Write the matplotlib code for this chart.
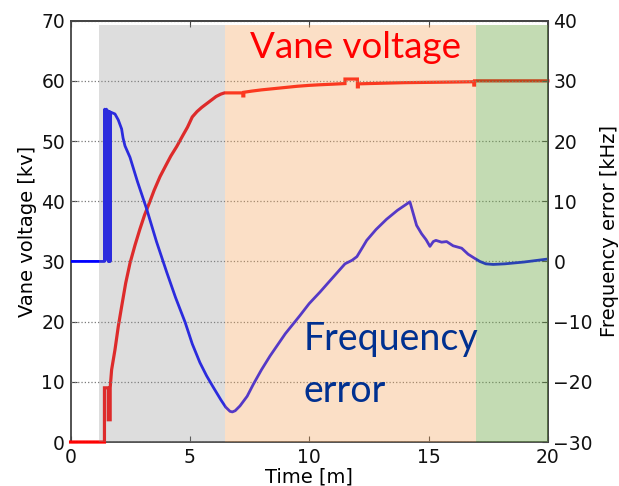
import matplotlib
matplotlib.use("Agg")
import matplotlib.pyplot as plt

# ---- data ----
time_v = [0, 1.42, 1.42, 1.58, 1.58, 1.66, 1.66, 1.72, 1.86, 2.00, 2.14, 2.31, 2.49,
          2.70, 2.90, 3.10, 3.30, 3.50, 3.75, 4.00, 4.20, 4.45, 4.70, 4.90,
          5.10, 5.30, 5.50, 5.70, 5.90, 6.10, 6.30, 6.45, 7.22, 7.22, 7.26, 7.26,
          7.60, 8.00, 8.50, 9.00, 9.50, 10.00, 10.45, 11.00, 11.50, 11.50, 12.02,
          12.02, 12.06, 12.06, 12.50, 13.00, 14.00, 15.00, 16.00, 16.90, 16.90,
          16.93, 16.93, 20.00]
vane_kv = [0, 0, 9.0, 9.0, 3.7, 3.7, 9.0, 12.0, 15.3, 19.2, 22.5, 26.4, 29.7,
           32.7, 35.3, 37.7, 39.7, 41.8, 44.1, 46.0, 47.5, 49.1, 50.9, 52.3,
           54.0, 54.9, 55.6, 56.2, 56.8, 57.4, 57.8, 58.0, 58.0, 57.5, 57.5, 58.1,
           58.3, 58.5, 58.7, 58.9, 59.1, 59.25, 59.35, 59.45, 59.55, 60.3, 60.3,
           59.0, 59.0, 59.5, 59.55, 59.6, 59.7, 59.75, 59.8, 59.85, 59.3,
           59.3, 60.0, 60.0]

time_f = [0, 1.42, 1.43, 1.45, 1.47, 1.50, 1.56, 1.58, 1.60, 1.62, 1.64, 1.66, 1.68,
          1.86, 2.00, 2.14, 2.20, 2.28, 2.49, 2.80, 3.19, 3.60, 4.03, 4.40, 4.80,
          5.10, 5.42, 5.70, 5.98, 6.30, 6.50, 6.68, 6.78, 6.90, 7.10, 7.40, 7.66,
          8.00, 8.36, 9.00, 9.61, 10.00, 10.45, 10.94, 11.50, 11.80, 12.00, 12.26,
          12.41, 12.80, 13.24, 13.70, 14.22, 14.30, 14.50, 14.71, 14.90, 15.06,
          15.20, 15.31, 15.55, 15.76, 16.03, 16.39, 16.66, 16.90, 17.15, 17.40,
          17.71, 18.20, 19.00, 20.00]
freq_khz = [0, 0, 25.3, 0.2, 25.2, 25.3, 25.0, 0, 24.9, 0, 24.9, 0, 24.8,
            24.5, 23.5, 22.0, 20.5, 19.2, 17.3, 13.3, 8.7, 3.3, -1.8, -6.0, -10.1,
            -13.7, -16.8, -19.0, -20.9, -23.0, -24.2, -24.9, -25.0, -24.8, -24.0,
            -22.4, -20.4, -18.0, -15.7, -12.0, -9.0, -7.0, -5.1, -2.9, -0.4, 0.2,
            0.8, 2.5, 3.5, 5.3, 7.0, 8.5, 9.9, 8.8, 6.0, 4.6, 3.6, 2.5, 3.3, 3.5,
            3.2, 3.3, 2.6, 2.2, 1.2, 0.6, 0.0, -0.4, -0.5, -0.4, -0.1, 0.4]

phase_edges = [1.19, 6.47, 16.98, 20.0]
phase_colors = ["#919191", "#f4a65c", "#6ba743"]
phase_alphas = [0.30, 0.35, 0.40]

x_ticks = [0, 5, 10, 15, 20]
left_ticks = [0, 10, 20, 30, 40, 50, 60, 70]
right_ticks = [-30, -20, -10, 0, 10, 20, 30, 40]

# ---- figure ----
fig = plt.figure(figsize=(6.19, 4.86), dpi=100)
ax = fig.add_axes([0.114, 0.0905, 0.771, 0.867])
ax2 = ax.twinx()

ax.plot(time_v, vane_kv, color="#ff0000", lw=2.3, zorder=3, clip_on=False,
        solid_joinstyle="miter")
ax2.plot(time_f, freq_khz, color="#0000ff", lw=2.0, zorder=2)

ax.set_xlim(0, 20)
ax.set_ylim(0, 70)
ax2.set_ylim(-30, 40)

ax.set_xticks(x_ticks)
ax.set_yticks(left_ticks)
ax2.set_yticks(right_ticks)
ax2.set_yticklabels([("\u2212%d" % -v) if v < 0 else str(v) for v in right_ticks])

# grid on the top axes (its y ticks coincide with the left ones), below the blue line
ax2.grid(True, axis="both", linestyle=":", color="#7a7a7a", lw=0.9, zorder=1)
ax2.set_axisbelow(True)
ax2.spines["bottom"].set_visible(False)
ax2.spines["left"].set_visible(False)

# shaded phases drawn on top of the lines (semi-transparent)
for i in range(3):
    ax2.axvspan(phase_edges[i], phase_edges[i + 1], ymin=0, ymax=0.99,
                color=phase_colors[i], alpha=phase_alphas[i], lw=0, zorder=5)

for a in (ax, ax2):
    for s in a.spines.values():
        s.set_color("#444444")
        s.set_linewidth(1.3)

ax.tick_params(direction="in", length=4, labelsize=13.5, pad=4, top=True,
               colors="#444444", labelcolor="#111111")
ax2.tick_params(direction="in", length=4, labelsize=13.5, pad=4,
                colors="#444444", labelcolor="#111111")

ax.set_xlabel("Time [m]", fontsize=14, labelpad=1)
ax.set_ylabel("Vane voltage [kv]", fontsize=14, labelpad=3)
ax2.set_ylabel("Frequency error [kHz]", fontsize=14, labelpad=5)

ax2.text(7.52, 33.76, "Vane voltage", color="#ff0000", fontsize=26.5,
         family="Lato", va="baseline", ha="left", zorder=10)
ax2.text(9.75, -14.7, "Frequency", color="#003090", fontsize=27,
         family="Lato", va="baseline", ha="left", zorder=10)
ax2.text(9.75, -23.3, "error", color="#003090", fontsize=27,
         family="Lato", va="baseline", ha="left", zorder=10)

fig.savefig("out.png", dpi=100)
